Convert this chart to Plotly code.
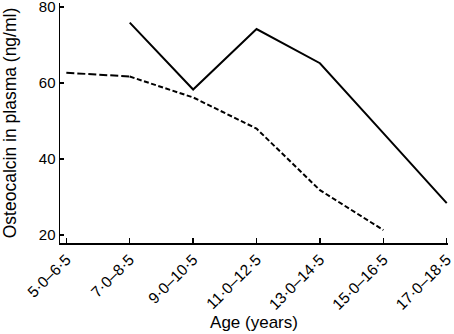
import plotly.graph_objects as go

categories = ["5·0–6·5", "7·0–8·5", "9·0–10·5", "11·0–12·5", "13·0–14·5", "15·0–16·5", "17·0–18·5"]
solid_values = [None, 75.9, 58.3, 74.2, 65.2, 46.8, 28.4]
dashed_values = [62.7, 61.7, 56.2, 48.0, 31.8, 21.3, None]
y_ticks = [20, 40, 60, 80]

x_idx = list(range(len(categories)))

fig = go.Figure()
fig.add_trace(go.Scatter(x=x_idx, y=solid_values, mode="lines",
                         line=dict(color="black", width=2), connectgaps=False,
                         showlegend=False, hoverinfo="skip"))
# dashed series: long dashes on the first segment, shorter dashes afterwards
fig.add_trace(go.Scatter(x=x_idx[:2], y=dashed_values[:2], mode="lines",
                         line=dict(color="black", width=2, dash="8px,3px"),
                         showlegend=False, hoverinfo="skip"))
fig.add_trace(go.Scatter(x=x_idx[1:], y=dashed_values[1:], mode="lines",
                         line=dict(color="black", width=2, dash="5px,2.5px"),
                         showlegend=False, hoverinfo="skip"))

fam = "Liberation Sans, Arial, sans-serif"
fig.update_layout(
    width=454, height=334,
    margin=dict(l=60, r=6, t=3, b=91),
    plot_bgcolor="white", paper_bgcolor="white",
    font=dict(family=fam, size=14, color="black"),
    xaxis=dict(range=[-0.1, 6.02], tickmode="array", tickvals=x_idx, ticktext=categories,
               tickangle=-45, ticks="inside", ticklen=5, tickwidth=1.5, tickcolor="black",
               showline=True, linecolor="black", linewidth=1.5, showgrid=False, zeroline=False,
               automargin=False, ticklabeloverflow="allow",
               title=dict(text="Age (years)", standoff=4, font=dict(family=fam, size=17)),
               tickfont=dict(family=fam, size=15.5, color="black")),
    yaxis=dict(range=[17.9, 81.05], tickmode="array", tickvals=y_ticks,
               ticks="inside", ticklen=4, tickwidth=1.5, tickcolor="black",
               showline=True, linecolor="black", linewidth=1.5, showgrid=False, zeroline=False,
               automargin=False, ticklabeloverflow="allow",
               title=dict(text="Osteocalcin in plasma (ng/ml)", standoff=22,
                          font=dict(family=fam, size=17.5)),
               tickfont=dict(family=fam, size=15, color="black")),
)
fig.write_html("out.html", config={"displayModeBar": False, "staticPlot": True},
               post_script="document.body.style.margin='0';document.body.style.overflow='hidden';")
